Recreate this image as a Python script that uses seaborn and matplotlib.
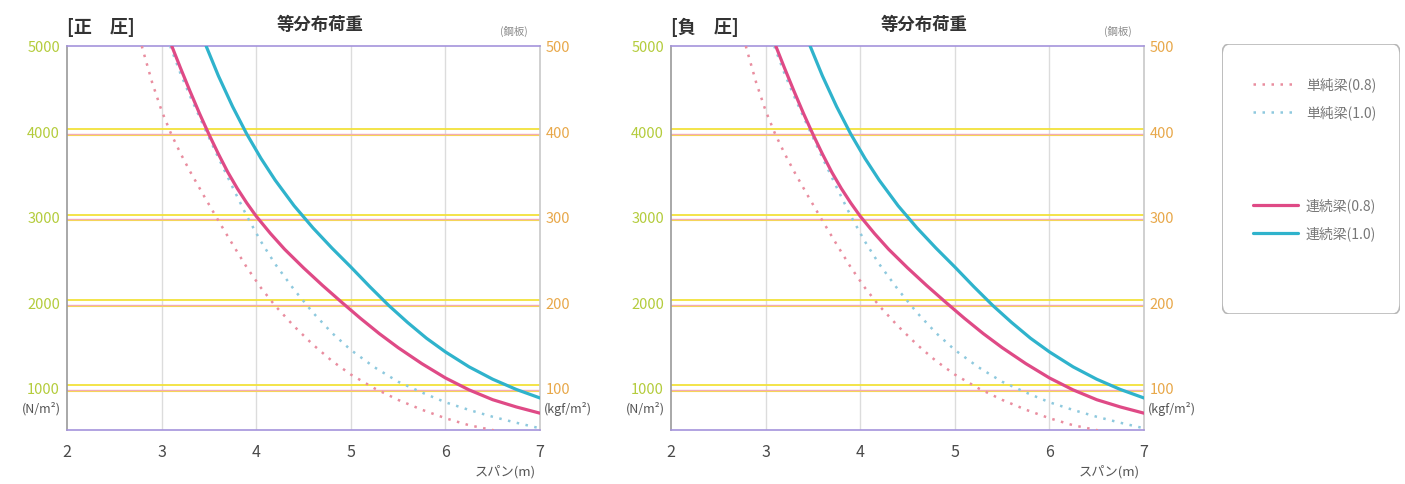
import matplotlib
matplotlib.use("Agg")
from matplotlib import pyplot as plt
from matplotlib.patches import FancyBboxPatch
import seaborn as sns

# values (both panels read the same)
span_ticks = [2, 3, 4, 5, 6, 7]
load_ticks = [1000, 2000, 3000, 4000, 5000]
kgf_ticks = [100, 200, 300, 400, 500]
grid_loads = [1000, 2000, 3000, 4000]

# 単純梁 (0.8) - dotted pink
simple08_x = [2.79, 2.9, 3.0, 3.1, 3.2, 3.3, 3.45, 3.6, 3.75, 3.9, 4.05, 4.2, 4.4, 4.6, 4.8, 5.0, 5.25, 5.5, 5.75, 6.0, 6.25, 6.51]
simple08_y = [5000, 4571, 4241, 3971, 3741, 3531, 3238, 2953, 2676, 2406, 2166, 1956, 1716, 1500, 1310, 1150, 988, 853, 738, 638, 556, 497]

# 単純梁 (1.0) - dotted cyan
simple10_x = [3.09, 3.2, 3.3, 3.45, 3.6, 3.75, 3.9, 4.05, 4.2, 4.4, 4.6, 4.8, 5.0, 5.25, 5.5, 5.75, 6.0, 6.25, 6.5, 6.75, 7.0]
simple10_y = [5000, 4676, 4414, 4048, 3691, 3345, 3008, 2708, 2445, 2145, 1875, 1638, 1438, 1235, 1066, 940, 825, 735, 655, 585, 520]

# 連続梁 (0.8) - solid magenta
cont08_x = [3.107, 3.2, 3.3, 3.4, 3.5, 3.6, 3.7, 3.8, 3.9, 4.0, 4.15, 4.3, 4.5, 4.7, 4.9, 5.1, 5.3, 5.5, 5.75, 6.0, 6.25, 6.5, 6.75, 7.0]
cont08_y = [5000, 4740, 4470, 4210, 3965, 3735, 3520, 3330, 3160, 3005, 2803, 2618, 2400, 2195, 2000, 1810, 1630, 1465, 1278, 1110, 970, 855, 770, 697]

# 連続梁 (1.0) - solid cyan
cont10_x = [3.47, 3.6, 3.75, 3.9, 4.05, 4.2, 4.4, 4.6, 4.8, 5.0, 5.2, 5.4, 5.6, 5.8, 6.0, 6.25, 6.5, 6.75, 7.0]
cont10_y = [5000, 4650, 4290, 3968, 3683, 3428, 3128, 2868, 2632, 2410, 2180, 1960, 1760, 1575, 1415, 1240, 1095, 975, 875]

panel_tags = ["[正　圧]", "[負　圧]"]

sns.set_theme(style="white")
plt.rcParams["font.family"] = ["Noto Sans CJK JP", "DejaVu Sans"]

fig = plt.figure(figsize=(14.05, 4.85), dpi=100)


def draw_panel(ax, tag):
    ax.set_xlim(2, 7)
    ax.set_ylim(500, 5000)

    # grid - vertical grey, horizontal printed in yellow with a pink shadow
    for v in span_ticks[1:-1]:
        ax.axvline(v, color="#dcdcdc", lw=1.0, zorder=1)
    for v in grid_loads:
        ax.axhline(v + 25, color="#f2e23a", lw=1.3, zorder=1)
        ax.axhline(v - 30, color="#f3a9b9", lw=1.0, zorder=1)
        ax.axhline(v - 42, color="#f5d45a", lw=0.8, zorder=1)

    sns.lineplot(x=simple08_x, y=simple08_y, ax=ax, color="#e98d9f", lw=1.8,
                 linestyle=(0, (1, 2.6)), sort=False, label="単純梁(0.8)", zorder=3)
    sns.lineplot(x=simple10_x, y=simple10_y, ax=ax, color="#8ec9de", lw=1.8,
                 linestyle=(0, (1, 2.6)), sort=False, label="単純梁(1.0)", zorder=3)
    sns.lineplot(x=cont08_x, y=cont08_y, ax=ax, color="#df4a86", lw=2.3,
                 sort=False, label="連続梁(0.8)", zorder=4)
    sns.lineplot(x=cont10_x, y=cont10_y, ax=ax, color="#2fb3cc", lw=2.3,
                 sort=False, label="連続梁(1.0)", zorder=4)
    if ax.get_legend() is not None:
        ax.get_legend().remove()

    ax.set_xticks(span_ticks)
    ax.set_yticks(load_ticks)
    ax.set_xlabel("")
    ax.set_ylabel("")
    ax.tick_params(axis="x", length=0, pad=9, labelsize=11.5, labelcolor="#4a4a4a")
    ax.tick_params(axis="y", length=0, pad=5, labelsize=10.5, labelcolor="#b4cc3c")

    ax.spines["left"].set_color("#9a9a9a")
    ax.spines["right"].set_color("#c8c8c8")
    ax.spines["top"].set_color("#a493dc")
    ax.spines["bottom"].set_color("#a493dc")
    for s in ax.spines.values():
        s.set_linewidth(1.2)

    ax2 = ax.twinx()
    ax2.set_ylim(50, 500)
    ax2.set_yticks(kgf_ticks)
    ax2.tick_params(axis="y", length=0, pad=4, labelsize=10.5, labelcolor="#e8a84a")
    for s in ax2.spines.values():
        s.set_visible(False)
    ax2.grid(False)

    ax.text(-0.012, 760, "(N/m²)", transform=ax.get_yaxis_transform(),
            ha="right", va="center", fontsize=9, color="#555555")
    ax.text(1.008, 76, "(kgf/m²)", transform=ax2.get_yaxis_transform(),
            ha="left", va="center", fontsize=9, color="#555555")
    ax.text(0.0, 1.025, tag, transform=ax.transAxes, ha="left", va="bottom",
            fontsize=13, fontweight="bold", color="#333333")
    ax.text(0.535, 1.035, "等分布荷重", transform=ax.transAxes, ha="center",
            va="bottom", fontsize=12.5, fontweight="bold", color="#333333")
    ax.text(0.945, 1.025, "(鋼板)", transform=ax.transAxes, ha="center",
            va="bottom", fontsize=7.5, color="#888888")
    ax.text(0.926, -0.107, "スパン(m)", transform=ax.transAxes, ha="center",
            va="center", fontsize=9.5, color="#555555")


axL = fig.add_axes([0.0477, 0.1113, 0.3367, 0.7918])
axR = fig.add_axes([0.4776, 0.1113, 0.3367, 0.7918])
draw_panel(axL, panel_tags[0])
draw_panel(axR, panel_tags[1])

# legend box on the right
ax_leg = fig.add_axes([0.8698, 0.3505, 0.1267, 0.5567])
ax_leg.axis("off")
ax_leg.add_patch(FancyBboxPatch((0, 0), 1, 1, boxstyle="round,pad=0,rounding_size=0.04",
                                transform=ax_leg.transAxes, fc="white", ec="#b8b8b8", lw=1.2))
handles, labels = axL.get_legend_handles_labels()
leg1 = ax_leg.legend(handles[:2], labels[:2], loc="center", bbox_to_anchor=(0.52, 0.80),
                     frameon=False, fontsize=10, handlelength=3.2, handletextpad=0.6,
                     labelspacing=0.95, labelcolor="#777777")
ax_leg.add_artist(leg1)
ax_leg.legend(handles[2:], labels[2:], loc="center", bbox_to_anchor=(0.52, 0.352),
              frameon=False, fontsize=10, handlelength=3.2, handletextpad=0.6,
              labelspacing=0.95, labelcolor="#777777")

fig.savefig("out.png", dpi=100)
